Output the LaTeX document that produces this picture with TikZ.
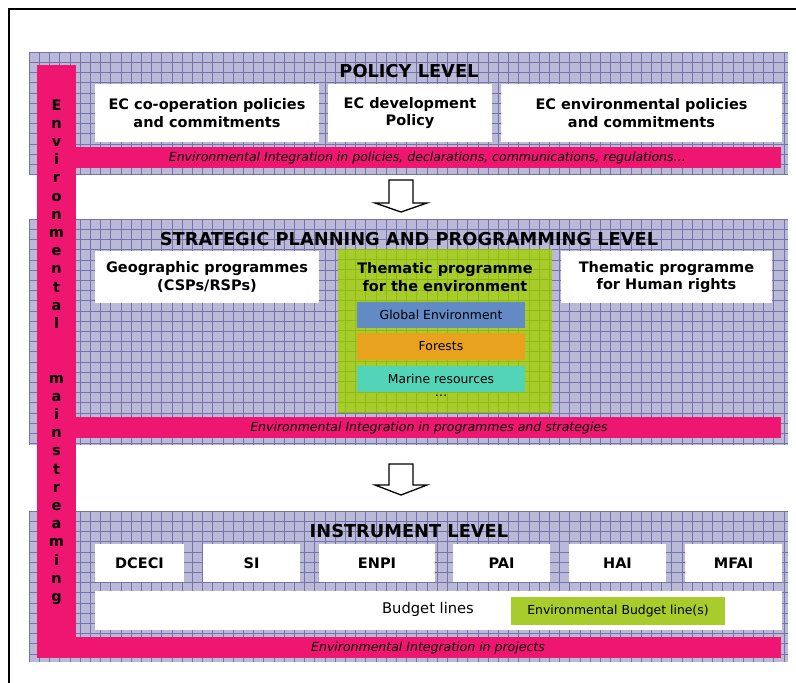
\documentclass[tikz,border=0pt]{standalone}
\usepackage{fontspec}
\setmainfont{DejaVu Sans}
\definecolor{lav}{RGB}{186,186,216}
\definecolor{lavline}{RGB}{116,116,170}
\definecolor{pinkb}{RGB}{238,22,112}
\definecolor{greenb}{RGB}{168,204,44}
\definecolor{greenline}{RGB}{140,188,16}
\definecolor{blueb}{RGB}{98,138,196}
\definecolor{orangeb}{RGB}{232,162,30}
\definecolor{tealb}{RGB}{82,212,184}
\newcommand\lavpanel[4]{%
  \fill[lav] (#1,#2) rectangle (#3,#4);
  \begin{scope}
    \clip (#1,#2) rectangle (#3,#4);
    \foreach \i in {0,...,76} {\draw[lavline,line width=0.5pt] ({#1+\i*10.2},#2) -- ({#1+\i*10.2},#4);}
    \foreach \j in {0,...,24} {\draw[lavline,line width=0.5pt] (#1,{#2+\j*10.2}) -- (#3,{#2+\j*10.2});}
  \end{scope}}
\begin{document}
\begin{tikzpicture}[x=1pt,y=-1pt,
  wbox/.style={fill=white,inner sep=0pt,align=center,font=\fontsize{14.5}{17.5}\selectfont\bfseries},
  title/.style={inner sep=0pt,font=\fontsize{17.8}{21}\selectfont\bfseries},
  strip/.style={inner sep=0pt,font=\fontsize{12.5}{15}\selectfont\itshape},
  bar/.style={inner sep=0pt,font=\fontsize{12.4}{15}\selectfont},
  vlet/.style={inner sep=0pt,anchor=base,font=\fontsize{14.5}{17}\selectfont\bfseries},
  blockarrow/.style={draw=black,fill=white,line width=1.3pt,line join=miter}]
\useasboundingbox (0,0) rectangle (796,683);
\clip (0,0) rectangle (796,683);
% outer frame
\draw[line width=1.4pt] (9,9) rectangle (820,720);
% panels
\lavpanel{29}{52}{788}{174}
\lavpanel{29}{219}{788}{445}
\lavpanel{29}{511}{788}{662}
% pink strips
\fill[pinkb] (37,65) rectangle (76,658);
\fill[pinkb] (76,147) rectangle (781,168);
\fill[pinkb] (76,417) rectangle (781,438);
\fill[pinkb] (37,637) rectangle (781,658);
% vertical text
\foreach \c [count=\k from 0] in {E,n,v,i,r,o,n,m,e,n,t,a,l}
  \node[vlet] (va\k) at (56.5,{110+\k*18.2}) {\c};
\foreach \c [count=\k from 0] in {m,a,i,n,s,t,r,e,a,m,i,n,g}
  \node[vlet] (vb\k) at (56.5,{383+\k*18.2}) {\c};
% policy level
\node[title] (poltitle) at (409,71) {POLICY LEVEL};
\node[wbox,minimum width=224,minimum height=58] (p1) at (207,113) {EC co-operation policies\\and commitments};
\node[wbox,minimum width=164,minimum height=58] (p2) at (410,113) {EC development\\Policy};
\node[wbox,minimum width=281,minimum height=58] (p3) at (641.5,113) {EC environmental policies\\and commitments};
\node[strip] (pstrip) at (427.5,158) {Environmental Integration in policies, declarations, communications, regulations…};
% arrow 1
\draw[blockarrow] (389,180) -- (413,180) -- (413,203) -- (427,203) -- (401,212) -- (375,203) -- (389,203) -- cycle;
% strategic level
\node[title] (sttitle) at (409,239) {STRATEGIC PLANNING AND PROGRAMMING LEVEL};
\node[wbox,minimum width=224,minimum height=52] (s1) at (207,277) {Geographic programmes\\(CSPs/RSPs)};
\fill[greenb] (338,249) rectangle (552,412);
\begin{scope}
  \clip (338,249) rectangle (552,412);
  \foreach \i in {0,...,25} {\draw[greenline,line width=0.5pt] ({29+\i*10.2+306},249) -- ({29+\i*10.2+306},412);}
  \foreach \j in {0,...,17} {\draw[greenline,line width=0.5pt] (338,{249+\j*10.2}) -- (552,{249+\j*10.2});}
\end{scope}
\node[inner sep=0pt,align=center,font=\fontsize{14.5}{17.5}\selectfont\bfseries] (s2) at (445,277) {Thematic programme\\for the environment};
\node[bar,fill=blueb,minimum width=168,minimum height=26] (b1) at (441,315) {Global Environment};
\node[bar,fill=orangeb,minimum width=168,minimum height=27] (b2) at (441,346.5) {Forests};
\node[bar,fill=tealb,minimum width=168,minimum height=26] (b3) at (441,379) {Marine resources};
\node[inner sep=0pt,font=\fontsize{12.4}{15}\selectfont] (b4) at (441,396) {…};
\node[wbox,minimum width=211,minimum height=52] (s3) at (666.5,277) {Thematic programme\\for Human rights};
\node[strip] (sstrip) at (429,428) {Environmental Integration in programmes and strategies};
% arrow 2
\draw[blockarrow] (389,464) -- (413,464) -- (413,485) -- (427,485) -- (401,495) -- (375,485) -- (389,485) -- cycle;
% instrument level
\node[title] (intitle) at (409,531) {INSTRUMENT LEVEL};
\node[wbox,minimum width=89,minimum height=38] (i1) at (139.5,563) {DCECI};
\node[wbox,minimum width=97,minimum height=38] (i2) at (251.5,563) {SI};
\node[wbox,minimum width=116,minimum height=38] (i3) at (377,563) {ENPI};
\node[wbox,minimum width=97,minimum height=38] (i4) at (501.5,563) {PAI};
\node[wbox,minimum width=97,minimum height=38] (i5) at (617.5,563) {HAI};
\node[wbox,minimum width=97,minimum height=38] (i6) at (733.5,563) {MFAI};
\node[fill=white,inner sep=0pt,minimum width=687,minimum height=39] (budget) at (438.5,610.5) {};
\node[inner sep=0pt,font=\fontsize{14.7}{17}\selectfont] (budgettxt) at (428,609) {Budget lines};
\node[inner sep=0pt,fill=greenb,minimum width=214,minimum height=28,font=\fontsize{12.4}{15}\selectfont] (envbudget) at (618,611) {Environmental Budget line(s)};
\node[strip] (istrip) at (428,648) {Environmental Integration in projects};
\end{tikzpicture}
\end{document}
